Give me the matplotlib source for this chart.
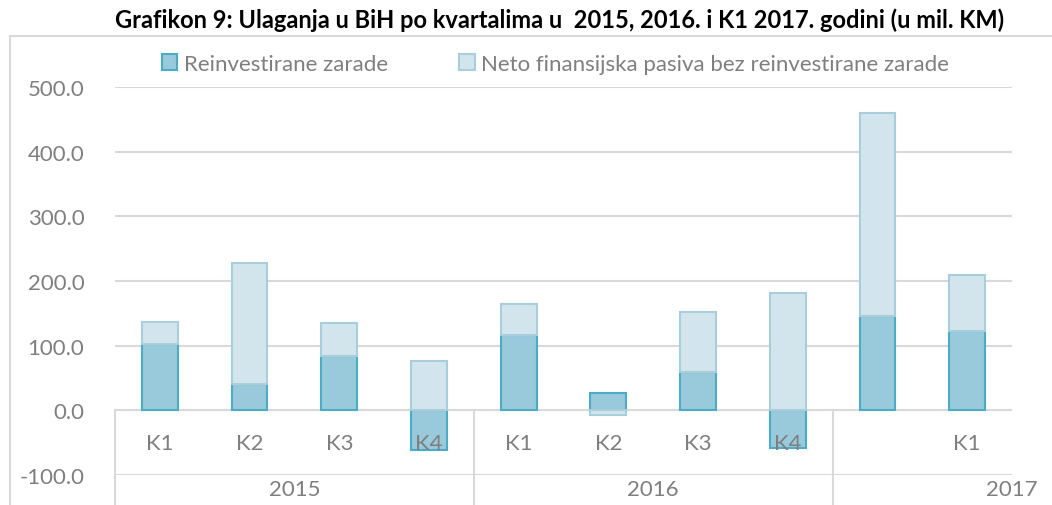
import numpy as np
import matplotlib.pyplot as plt
from matplotlib.lines import Line2D
from matplotlib.patches import Patch

quarters = ["K1", "K2", "K3", "K4", "K1", "K2", "K3", "K4", "", "K1"]
years = ["2015", "2016", "2017"]
reinvested = [102, 40, 84, -62, 116, 27, 60, -58, 146, 122]
net_liab = [34, 188, 51, 77, 48, -7, 92, 182, 314, 88]

C_RE = "#98CADB"
C_RE_EDGE = "#4BACC6"
C_NET = "#D2E5ED"
C_NET_EDGE = "#A8CEDC"
GRID = "#D9D9D9"
TXT = "#7F7F7F"

plt.rcParams['font.family'] = ['Lato', 'DejaVu Sans']

fig = plt.figure(figsize=(10.52, 5.06), dpi=100)
ax = fig.add_axes([115 / 1052, 30 / 506, 897 / 1052, 388 / 506])

x = np.arange(len(quarters))
re = np.array(reinvested, dtype=float)
nt = np.array(net_liab, dtype=float)
# excel stacks positives and negatives separately
net_bottom = np.where(np.sign(re) == np.sign(nt), re, 0)

ax.bar(x, re, width=0.4, color=C_RE, edgecolor=C_RE_EDGE, linewidth=1.5, zorder=3,
       label="Reinvestirane zarade")
ax.bar(x, nt, bottom=net_bottom, width=0.4, color=C_NET, edgecolor=C_NET_EDGE,
       linewidth=1.5, zorder=3, label="Neto finansijska pasiva bez reinvestirane zarade")

ax.set_xlim(-0.5, len(quarters) - 0.5)
ax.set_ylim(-100, 500)
ax.set_yticks(np.arange(-100, 501, 100))
ax.set_yticklabels([f"{v:.1f}" for v in np.arange(-100, 501, 100)])
ax.tick_params(axis='y', length=0, colors=TXT, labelsize=16, pad=22)
ax.tick_params(axis='x', length=0, labelbottom=False)
ax.grid(axis='y', color=GRID, linewidth=1.5, zorder=0)
for s in ax.spines.values():
    s.set_visible(False)

# quarter labels under zero line (drawn over the bars, as in excel)
for xi, q in zip(x, quarters):
    ax.text(xi, -50, q, ha='center', va='center', color=TXT, fontsize=16, zorder=5)

# year labels and group separators
year_pos = [1.5, 5.5, 9.5]
for xp, yr in zip(year_pos, years):
    ax.text(xp, -122, yr, ha='center', va='center', color=TXT, fontsize=16, clip_on=False)
for xs in [-0.5, 3.5, 7.5]:
    ax.add_line(Line2D([xs, xs], [0, -147], color=GRID, linewidth=1.5, clip_on=False, zorder=1))

fig.legend(handles=[Patch(facecolor=C_RE, edgecolor=C_RE_EDGE, linewidth=1.5),
                    Patch(facecolor=C_NET, edgecolor=C_NET_EDGE, linewidth=1.5)],
           labels=["Reinvestirane zarade", "Neto finansijska pasiva bez reinvestirane zarade"],
           loc='center', bbox_to_anchor=(0.528, 1 - 65 / 506), ncol=2, frameon=False,
           fontsize=16, labelcolor=TXT, handlelength=0.7, handleheight=0.7,
           handletextpad=0.3, columnspacing=3.2)

fig.text(0.532, 1 - 20 / 506,
         "Grafikon 9: Ulaganja u BiH po kvartalima u  2015, 2016. i K1 2017. godini (u mil. KM)",
         ha='center', va='center', fontsize=17, fontweight='bold', color='black')

# outer chart frame
fig.add_artist(Line2D([10 / 1052, 1], [1 - 37 / 506] * 2, color=GRID, linewidth=1.5))
fig.add_artist(Line2D([10 / 1052] * 2, [0, 1 - 37 / 506], color=GRID, linewidth=1.5))

fig.savefig("out.png", dpi=100)
